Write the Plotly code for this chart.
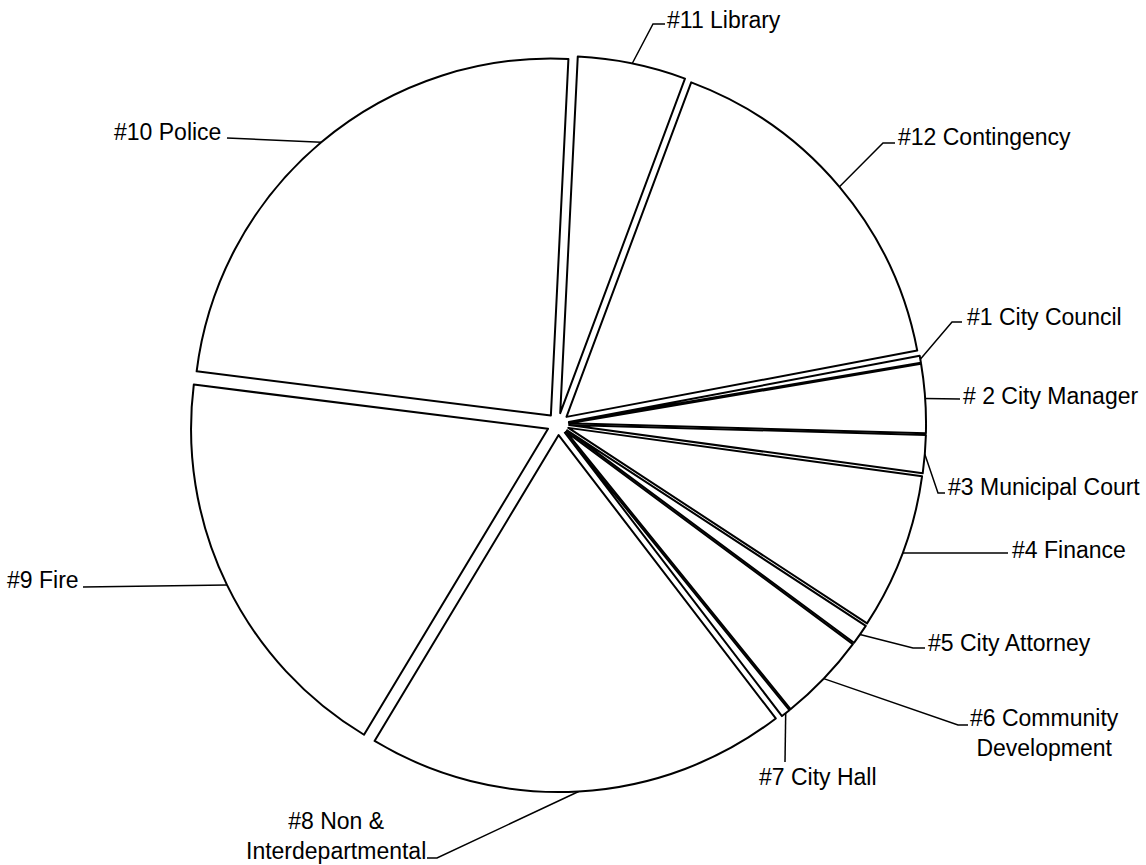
import math
import plotly.graph_objects as go

# ---- data (share of budget, %) ----
labels = ["#1 City Council", "# 2 City Manager", "#3 Municipal Court", "#4 Finance",
          "#5 City Attorney", "#6 Community<br>Development", "#7 City Hall",
          "#8 Non &<br>Interdepartmental", "#9 Fire", "#10 Police", "#11 Library",
          "#12 Contingency"]
shares = [0.31, 3.11, 1.72, 7.06, 0.92, 4.03, 0.42, 19.03, 18.36, 23.81, 4.90, 16.35]

# ---- geometry / style ----
W, H = 1146, 865
CX, CY, R = 558, 424, 357
PULL = 0.031
ROT = 79.3
FONT = dict(family="Arial, Liberation Sans, sans-serif", size=23, color="black")

# label layout: (leader bend points after the slice anchor, text x, text y, xanchor)
label_layout = [
    ([(952, 322), (962, 322)], 965, 317, "left"),
    ([(960, 399)], 961, 396, "left"),
    ([(938, 493), (945, 493)], 946, 487, "left"),
    ([(1008, 553)], 1010, 550, "left"),
    ([(913, 648), (925, 648)], 926, 643, "left"),
    ([(958, 725), (968, 725)], 1044, 733, "center"),
    ([(785, 762)], 818, 777, "center"),
    ([(437, 858), (427, 858)], 336, 836, "center"),
    ([(83, 587)], 81, 580, "right"),
    ([(227, 138)], 223, 132, "right"),
    ([(653, 24), (665, 24)], 665, 20, "left"),
    ([(883, 143), (895, 143)], 896, 137, "left"),
]

half = R * (1 + PULL)
dom_x = [(CX - half) / W, (CX + half) / W]
dom_y = [1 - (CY + half) / H, 1 - (CY - half) / H]

fig = go.Figure()
fig.add_trace(go.Pie(
    labels=labels, values=shares, sort=False, direction="clockwise", rotation=ROT,
    pull=PULL, textinfo="none", hoverinfo="label+percent", showlegend=False,
    marker=dict(colors=["white"] * len(shares), line=dict(color="black", width=2)),
    domain=dict(x=dom_x, y=dom_y),
))

# leader lines computed from slice mid-angles
total = sum(shares)
xs, ys = [], []
cum = 0.0
for v, (pts, tx, ty, xa), lab in zip(shares, label_layout, labels):
    mid = math.radians(ROT + (cum + v / 2) / total * 360)
    cum += v
    ox = CX + R * PULL * math.sin(mid)
    oy = CY - R * PULL * math.cos(mid)
    ax = ox + R * math.sin(mid)
    ay = oy - R * math.cos(mid)
    xs += [ax] + [p[0] for p in pts] + [None]
    ys += [ay] + [p[1] for p in pts] + [None]
    fig.add_annotation(x=tx, y=ty, xref="x", yref="y", text=lab, showarrow=False,
                       xanchor=xa, yanchor="middle", align="center", font=FONT)

fig.add_trace(go.Scatter(x=xs, y=ys, mode="lines", line=dict(color="black", width=1.5),
                         hoverinfo="skip", showlegend=False))

fig.update_layout(
    width=W, height=H, margin=dict(l=0, r=0, t=0, b=0),
    paper_bgcolor="white", plot_bgcolor="rgba(0,0,0,0)",
    xaxis=dict(range=[0, W], visible=False, fixedrange=True, domain=[0, 1]),
    yaxis=dict(range=[H, 0], visible=False, fixedrange=True, domain=[0, 1]),
)
fig.write_html("out.html")
